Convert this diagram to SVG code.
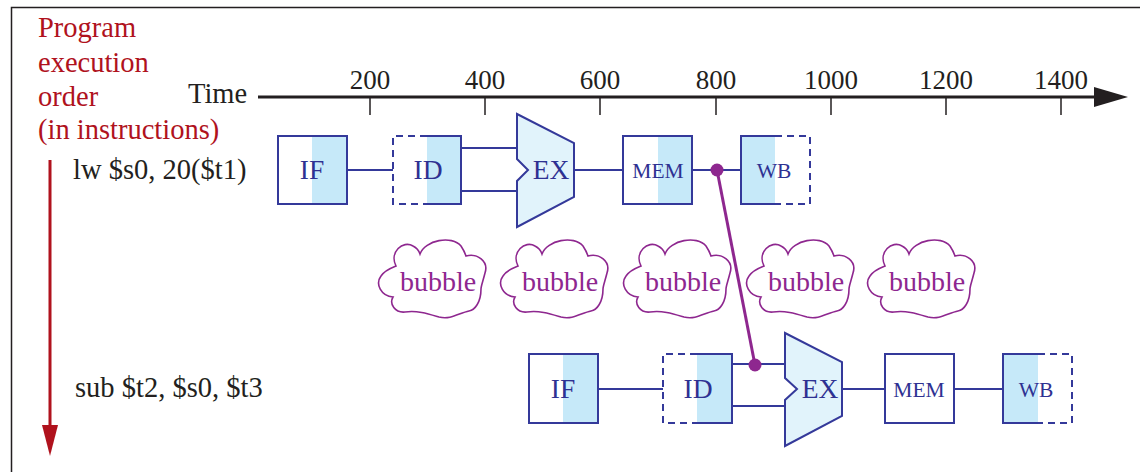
<svg xmlns="http://www.w3.org/2000/svg" width="1140" height="472" viewBox="0 0 1140 472">
<defs>
<style>
text{font-family:"Liberation Serif","Times New Roman",serif;}
.blk{fill:#231f20;font-size:28.5px;}
.red{fill:#b0121d;font-size:28.5px;}
.num{fill:#231f20;font-size:27px;text-anchor:middle;}
.st{fill:#2e3192;font-size:27.5px;text-anchor:middle;}
.sm{fill:#2e3192;font-size:21.5px;text-anchor:middle;}
.bub{fill:#8e278f;font-size:28px;text-anchor:middle;}
.box{fill:none;stroke:#34399a;stroke-width:2;}
.dash{fill:none;stroke:#34399a;stroke-width:2;stroke-dasharray:7 5;}
.shade{fill:#c6e9f9;}
.ex{fill:#e1f3fb;stroke:#34399a;stroke-width:2;stroke-linejoin:miter;}
.wire{fill:none;stroke:#34399a;stroke-width:2;}
.tick{stroke:#231f20;stroke-width:1.5;}
.cloud{fill:#fff;stroke:#8e278f;stroke-width:1.6;}
.fwd{stroke:#8e278f;stroke-width:3;fill:none;}
</style>
<path id="cloudShape" d="M19,27 C12,13 26,1 36,7 C40,9 42,12 43,15 C48,1 75,-4 84,7 C86,10 88,14 89,17 C100,14 112,22 108,34 C106,42 104,47 104,50 C104,63 98,71 92,72 C82,74 74,81 62,78 C52,75 40,71 28,73 C18,74 12,65 16,58 C4,57 -2,45 4,37 C8,31 14,29 19,27 Z"/>
</defs>
<rect x="11.5" y="7.5" width="1140" height="480" fill="#fff" stroke="#231f20" stroke-width="1.5"/>

<g id="legend">
<text class="red" x="38" y="37">Program</text>
<text class="red" x="38" y="72">execution</text>
<text class="red" x="38" y="106">order</text>
<text class="red" x="38" y="139">(in instructions)</text>
<line x1="50" y1="160" x2="50" y2="428" stroke="#b0121d" stroke-width="3"/>
<polygon points="42,425 58,425 50,456" fill="#b0121d"/>
<text class="blk" x="73" y="179">lw $s0, 20($t1)</text>
<text class="blk" x="75" y="397">sub $t2, $s0, $t3</text>
</g>

<g id="timeline">
<text class="blk" x="188" y="103">Time</text>
<line x1="258" y1="97" x2="1097" y2="97" stroke="#231f20" stroke-width="3"/>
<polygon points="1094,87 1128,97 1094,107" fill="#231f20"/>
<line class="tick" x1="370" y1="97" x2="370" y2="115"/>
<line class="tick" x1="485" y1="97" x2="485" y2="115"/>
<line class="tick" x1="600" y1="97" x2="600" y2="115"/>
<line class="tick" x1="716" y1="97" x2="716" y2="115"/>
<line class="tick" x1="831" y1="97" x2="831" y2="115"/>
<line class="tick" x1="946" y1="97" x2="946" y2="115"/>
<line class="tick" x1="1061" y1="97" x2="1061" y2="115"/>
<text class="num" x="370" y="89">200</text>
<text class="num" x="485" y="89">400</text>
<text class="num" x="600" y="89">600</text>
<text class="num" x="716" y="89">800</text>
<text class="num" x="831" y="89">1000</text>
<text class="num" x="946" y="89">1200</text>
<text class="num" x="1061" y="89">1400</text>
</g>

<g id="connectors">
<line class="wire" x1="347" y1="170" x2="393" y2="170"/>
<line class="wire" x1="461" y1="148" x2="517" y2="148"/>
<line class="wire" x1="461" y1="191" x2="517" y2="191"/>
<line class="wire" x1="574" y1="170" x2="623" y2="170"/>
<line class="wire" x1="692" y1="170" x2="741" y2="170"/>
<line class="wire" x1="598" y1="389" x2="663" y2="389"/>
<line class="wire" x1="732" y1="364" x2="785" y2="364"/>
<line class="wire" x1="732" y1="406" x2="785" y2="406"/>
<line class="wire" x1="842" y1="389" x2="885" y2="389"/>
<line class="wire" x1="954" y1="389" x2="1003" y2="389"/>
<line class="fwd" x1="717" y1="170" x2="755" y2="365"/>
<circle cx="717" cy="170" r="6.5" fill="#8e278f"/>
<circle cx="755" cy="365" r="6.5" fill="#8e278f"/>
</g>

<g id="lw-IF">
<rect class="shade" x="312" y="136" width="35" height="68"/>
<rect class="box" x="278" y="136" width="69" height="68"/>
<text class="st" x="312" y="179">IF</text>
</g>
<g id="lw-ID">
<rect class="shade" x="427" y="136" width="34" height="68"/>
<path class="dash" d="M427,136 H393 V204 H427"/>
<path class="box" d="M427,136 H461 V204 H427"/>
<text class="st" x="428" y="179">ID</text>
</g>
<g id="lw-EX">
<polygon class="ex" points="517,114 574,143 574,197 517,227 517,181 528,170 517,159"/>
<text class="st" x="551" y="179">EX</text>
</g>
<g id="lw-MEM">
<rect class="shade" x="658" y="136" width="34" height="68"/>
<rect class="box" x="623" y="136" width="69" height="68"/>
<text class="sm" x="658" y="178">MEM</text>
</g>
<g id="lw-WB">
<rect class="shade" x="741" y="136" width="34" height="68"/>
<path class="box" d="M775,136 H741 V204 H775"/>
<path class="dash" d="M775,136 H810 V204 H775"/>
<text class="sm" x="774" y="178">WB</text>
</g>

<g id="bubbles">
<g transform="translate(377,239)"><use href="#cloudShape" class="cloud"/><text class="bub" x="61" y="52">bubble</text></g>
<g transform="translate(499,239)"><use href="#cloudShape" class="cloud"/><text class="bub" x="61" y="52">bubble</text></g>
<g transform="translate(622,239)"><use href="#cloudShape" class="cloud"/><text class="bub" x="61" y="52">bubble</text></g>
<g transform="translate(745,239)"><use href="#cloudShape" class="cloud"/><text class="bub" x="61" y="52">bubble</text></g>
<g transform="translate(866,239)"><use href="#cloudShape" class="cloud"/><text class="bub" x="61" y="52">bubble</text></g>
</g>

<g id="sub-IF">
<rect class="shade" x="563" y="354" width="35" height="69"/>
<rect class="box" x="529" y="354" width="69" height="69"/>
<text class="st" x="563" y="398">IF</text>
</g>
<g id="sub-ID">
<rect class="shade" x="697" y="354" width="35" height="69"/>
<path class="dash" d="M697,354 H663 V423 H697"/>
<path class="box" d="M697,354 H732 V423 H697"/>
<text class="st" x="698" y="398">ID</text>
</g>
<g id="sub-EX">
<polygon class="ex" points="785,333 842,362 842,416 785,446 785,400 797,389 785,378"/>
<text class="st" x="820" y="398">EX</text>
</g>
<g id="sub-MEM">
<rect class="box" x="885" y="354" width="69" height="69"/>
<text class="sm" x="919" y="397">MEM</text>
</g>
<g id="sub-WB">
<rect class="shade" x="1003" y="354" width="35" height="69"/>
<path class="box" d="M1038,354 H1003 V423 H1038"/>
<path class="dash" d="M1038,354 H1072 V423 H1038"/>
<text class="sm" x="1036" y="397">WB</text>
</g>
</svg>
